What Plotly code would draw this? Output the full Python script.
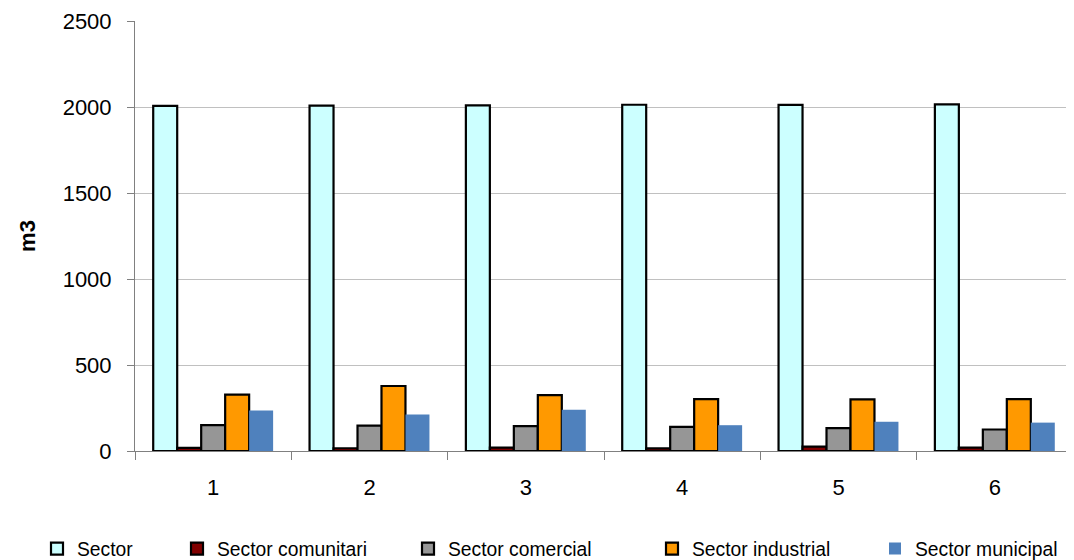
import plotly.graph_objects as go

categories = ["1", "2", "3", "4", "5", "6"]
sector = [2006, 2008, 2010, 2013, 2012, 2015]
sector_comunitari = [18, 16, 20, 15, 25, 20]
sector_comercial = [150, 148, 145, 140, 133, 125]
sector_industrial = [328, 378, 325, 302, 300, 302]
sector_municipal = [235, 212, 240, 150, 170, 165]

series = [
    ("Sector", sector, "#CCFFFF", 2.2, 63),
    ("Sector comunitari", sector_comunitari, "#800000", 2.2, 203),
    ("Sector comercial", sector_comercial, "#969696", 2.2, 434),
    ("Sector industrial", sector_industrial, "#FF9900", 2.2, 678),
    ("Sector municipal", sector_municipal, "#4F81BD", 0, 901),
]

FONT = "Liberation Sans, Arial, sans-serif"
OFF = 8  # page body margin offset
W, H = 1074 - OFF, 560 - OFF

fig = go.Figure()
layout_legends = {}
for i, (name, vals, color, lw, cx) in enumerate(series):
    key = "legend" if i == 0 else f"legend{i+1}"
    fig.add_trace(go.Bar(
        x=categories, y=vals, name=name,
        marker=dict(color=color, line=dict(color="#000000", width=lw)),
        legend=key,
    ))
    layout_legends[key] = dict(
        xref="container", yref="container",
        x=(cx - OFF - 26) / W, y=1 - (549 - OFF) / H,
        xanchor="left", yanchor="middle",
        orientation="h", bgcolor="rgba(0,0,0,0)",
        font=dict(family=FONT, size=19.3, color="#000000"),
        itemwidth=30, tracegroupgap=0,
    )

fig.update_layout(
    width=W, height=H,
    margin=dict(l=135 - OFF, r=1, t=21 - OFF, b=(H - (451 - OFF))),
    paper_bgcolor="#FFFFFF", plot_bgcolor="#FFFFFF",
    barmode="group", bargap=0.233, bargroupgap=0,
    font=dict(family=FONT, size=22, color="#000000"),
    showlegend=True,
    **layout_legends,
)

fig.update_xaxes(
    type="category", tickson="boundaries",
    ticks="outside", ticklen=8, tickcolor="#808080", tickwidth=1,
    showline=True, linecolor="#808080", linewidth=1,
    showgrid=False, ticklabelstandoff=17,
    tickfont=dict(family=FONT, size=22, color="#000000"),
)
fig.update_yaxes(
    range=[0, 2500], dtick=500, tick0=0,
    ticks="outside", ticklen=7, tickcolor="#808080", tickwidth=1,
    showline=True, linecolor="#808080", linewidth=1,
    showgrid=True, gridcolor="#C0C0C0", gridwidth=1,
    zeroline=False, ticklabelstandoff=11,
    tickfont=dict(family=FONT, size=22, color="#000000"),
    title=dict(text="<b>m3</b>", font=dict(family=FONT, size=22, color="#000000"), standoff=20),
)

fig.write_html("out.html")
